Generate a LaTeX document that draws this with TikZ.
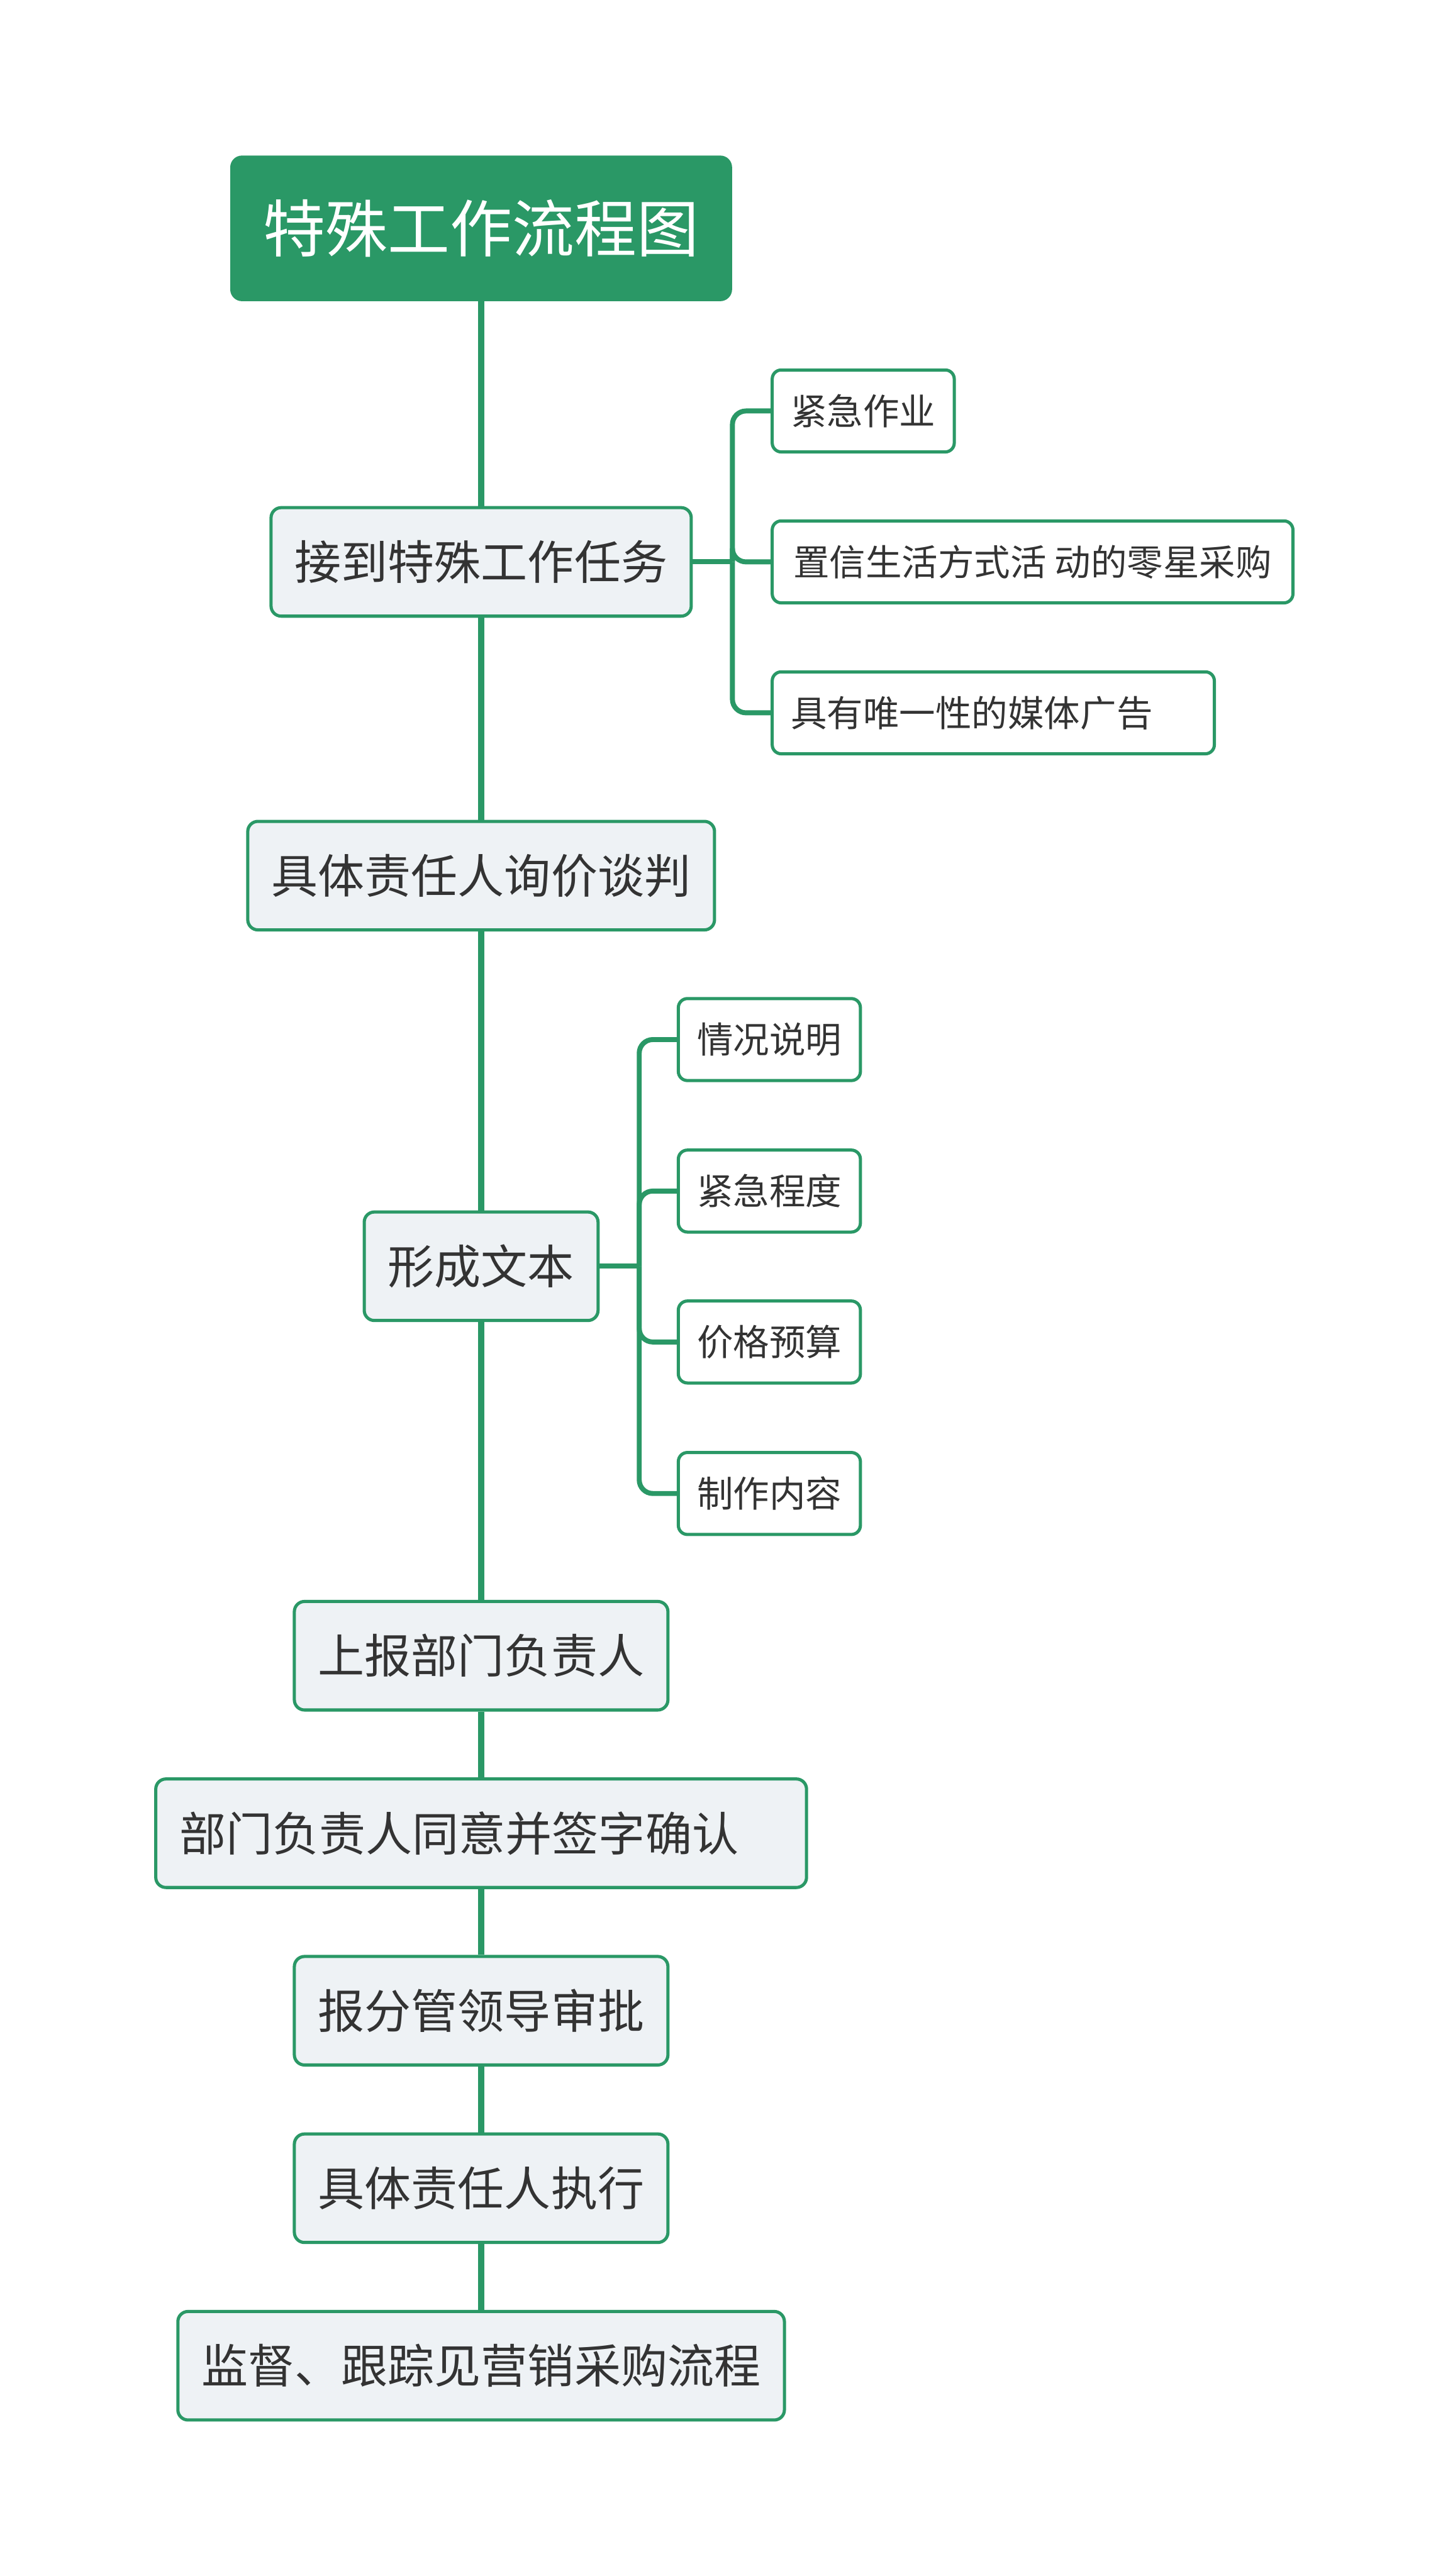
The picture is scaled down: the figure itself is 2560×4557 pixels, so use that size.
\documentclass[tikz,border=0pt]{standalone}
\usepackage{fontspec}
\setmainfont{Noto Sans CJK SC}
\usepackage{tikz}
\usetikzlibrary{positioning}
\definecolor{TreeGreen}{RGB}{42,152,102}
\definecolor{BoxGrey}{RGB}{238,242,245}
\definecolor{TextGrey}{RGB}{51,51,51}

\begin{document}
\begin{tikzpicture}[x=0.25pt,y=-0.25pt,
        titlebox/.style={draw=TreeGreen,fill=TreeGreen,rounded corners=5pt,text=white,font=\fontsize{27.5}{30}\selectfont,inner xsep=14.5pt,minimum height=64pt},
        mainbox/.style={draw=TreeGreen,line width=1.4pt,fill=BoxGrey,rounded corners=4.5pt,text=TextGrey,font=\fontsize{20.6}{24}\selectfont,inner xsep=10.5pt,minimum height=48pt},
        subbox/.style={draw=TreeGreen,line width=1.4pt,fill=white,rounded corners=4pt,text=TextGrey,font=\fontsize{16}{19}\selectfont,inner xsep=8.25pt,minimum height=36.25pt,anchor=west},
        trunk/.style={draw=TreeGreen,line width=2.6pt},
        twig/.style={draw=TreeGreen,line width=2.2pt,rounded corners=6pt}]
        \useasboundingbox (0,0) rectangle (2560,4557);

        \node [titlebox] (title) at (851,404) {特殊工作流程图};

        \node [mainbox] (receive) at (851,994) {接到特殊工作任务};
        \node [mainbox] (inquire) at (851,1549) {具体责任人询价谈判};
        \node [mainbox] (draft) at (851,2240) {形成文本};
        \node [mainbox] (report) at (851,2929) {上报部门负责人};
        \node [mainbox,text width=266.75pt,align=left] (sign) at (851,3243) {部门负责人同意并签字确认};
        \node [mainbox] (approve) at (851,3557) {报分管领导审批};
        \node [mainbox] (execute) at (851,3871) {具体责任人执行};
        \node [mainbox] (monitor) at (851,4185) {监督、跟踪见营销采购流程};

        \node [subbox] (urgent) at (1363,727) {紧急作业};
        \node [subbox,minimum width=230.25pt] (casual) at (1363,994) {置信生活方式活 动的零星采购};
        \node [subbox,text width=179pt,align=left] (media) at (1363,1261) {具有唯一性的媒体广告};

        \node [subbox] (situation) at (1197,1839) {情况说明};
        \node [subbox] (degree) at (1197,2107) {紧急程度};
        \node [subbox] (budget) at (1197,2374) {价格预算};
        \node [subbox] (content) at (1197,2642) {制作内容};

        \foreach \a/\b in {title/receive,receive/inquire,inquire/draft,draft/report,report/sign,sign/approve,approve/execute,execute/monitor}
            \draw [trunk] (\a) -- (\b);

        \draw [twig] (receive.east) -- ++(70,0) coordinate (receivefork);
        \foreach \c in {urgent,casual,media}
            \draw [twig] (receivefork) |- (\c.west);

        \draw [twig] (draft.east) -- ++(70,0) coordinate (draftfork);
        \foreach \c in {situation,degree,budget,content}
            \draw [twig] (draftfork) |- (\c.west);
    \end{tikzpicture}
\end{document}
